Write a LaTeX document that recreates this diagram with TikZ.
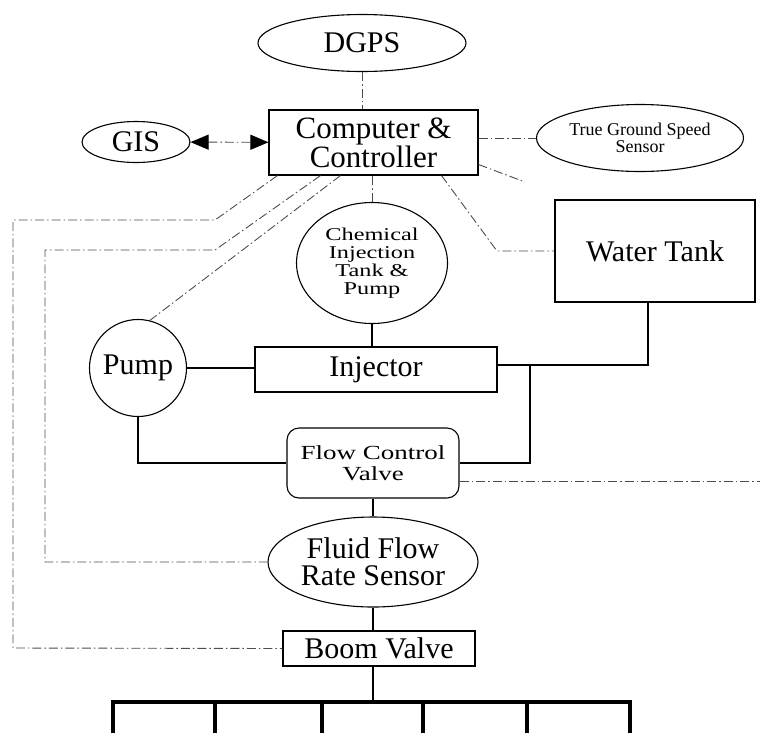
\documentclass[tikz,border=0pt]{standalone}
\usepackage{fontspec}
\setmainfont{Liberation Serif}
\newfontfamily\widefont[FakeStretch=1.35]{Liberation Serif}
\usetikzlibrary{arrows.meta,shapes.geometric,calc}

\begin{document}
\begin{tikzpicture}[x=1pt, y=-1pt, >={Triangle[length=18pt,width=15pt,color=black]},
    every node/.style={align=center, inner sep=0pt, font=\fontsize{30}{26}\selectfont},
    box/.style={draw, rectangle, line width=1.1pt},
    oval/.style={draw, ellipse, line width=1.1pt},
    pipe/.style={line width=2.4pt},
    signal/.style={line width=0.9pt, black!70, dash pattern=on 9pt off 3pt on 1.5pt off 3pt},
    boomline/.style={line width=4pt}]
    \useasboundingbox (0,0) rectangle (760,732);

    \node[oval, minimum width=208pt, minimum height=57pt] (dgps) at (362,43) {DGPS};
    \node[box, minimum width=209pt, minimum height=65pt, font=\fontsize{31}{25}\selectfont] (ctrl) at (373.5,142.5) {Computer \&\\Controller};
    \node[oval, minimum width=108pt, minimum height=41pt] (gis) at (136,142) {GIS};
    \node[oval, minimum width=207pt, minimum height=67pt, font=\fontsize{18}{17}\selectfont] (tgs) at (640,138) {True Ground Speed\\Sensor};
    \node[box, minimum width=200pt, minimum height=102pt] (tank) at (655,251) {Water Tank};
    \node[oval, minimum width=151pt, minimum height=121pt, font=\widefont\fontsize{18}{18}\selectfont] (chem) at (372,263) {Chemical\\Injection\\Tank \&\\Pump};
    \node[box, minimum width=242pt, minimum height=45pt] (inj) at (376,369.5) {Injector};
    \node[draw, circle, line width=1.1pt, minimum size=97pt] (pump) at (138,368) {Pump};
    \node[box, rounded corners=12pt, minimum width=172pt, minimum height=70pt, font=\widefont\fontsize{20}{21}\selectfont] (fcv) at (373,463) {Flow Control\\Valve};
    \node[oval, minimum width=210pt, minimum height=90pt, font=\fontsize{30}{27}\selectfont] (flow) at (373,562) {Fluid Flow\\Rate Sensor};
    \node[box, minimum width=192pt, minimum height=35pt] (boom) at (379,648.5) {Boom Valve};

    % liquid lines
    \coordinate (tee) at (530,365);
    \draw[pipe] (chem.south) -- (chem.south |- inj.north);
    \draw[pipe] (pump.east) -- (pump.east -| inj.west);
    \draw[pipe] (inj.east |- tee) -| ([xshift=-7pt]tank.south);
    \draw[pipe] (tee) |- (fcv.east);
    \draw[pipe] (pump.south) |- (fcv.west);
    \draw[pipe] (fcv.south) -- (fcv.south |- flow.north);
    \draw[pipe] (flow.south) -- (flow.south |- boom.north);

    % boom and nozzles
    \coordinate (bl) at (113,702);
    \coordinate (br) at (630,702);
    \draw[pipe] (flow.south |- boom.south) -- (flow.south |- bl);
    \draw[boomline] (bl) -- (br);
    \foreach \x in {113,215,322,423,527,630}
        \draw[boomline] (\x,700) -- (\x,734);

    % signal lines
    \coordinate (offA) at (525,182);
    \coordinate (offB) at (762,481);
    \draw[signal] (dgps.south) -- (dgps.south |- ctrl.north);
    \draw[signal] (chem.north) -- (chem.north |- ctrl.south);
    \draw[signal, <->] (gis) -- (ctrl);
    \draw[signal] (ctrl.east |- tgs.west) -- (tgs.west);
    \draw[signal] ([yshift=-22pt]ctrl.east) -- (offA);
    \draw[signal] ([xshift=68pt]ctrl.south) -- (497,251) -- (tank.west);
    \draw[signal] ([yshift=-18pt]fcv.east) -- (offB);
    \draw[signal] ([xshift=-96pt]ctrl.south) -- (215,220) -- (13,220) -- (13,648) -- (boom.west);
    \draw[signal] ([xshift=-53pt]ctrl.south) -- (215,250) -- (45,250) -- (45,562) -- (flow.west);
    \draw[signal] ([xshift=-33pt]ctrl.south) -- (pump.76);
\end{tikzpicture}
\end{document}
